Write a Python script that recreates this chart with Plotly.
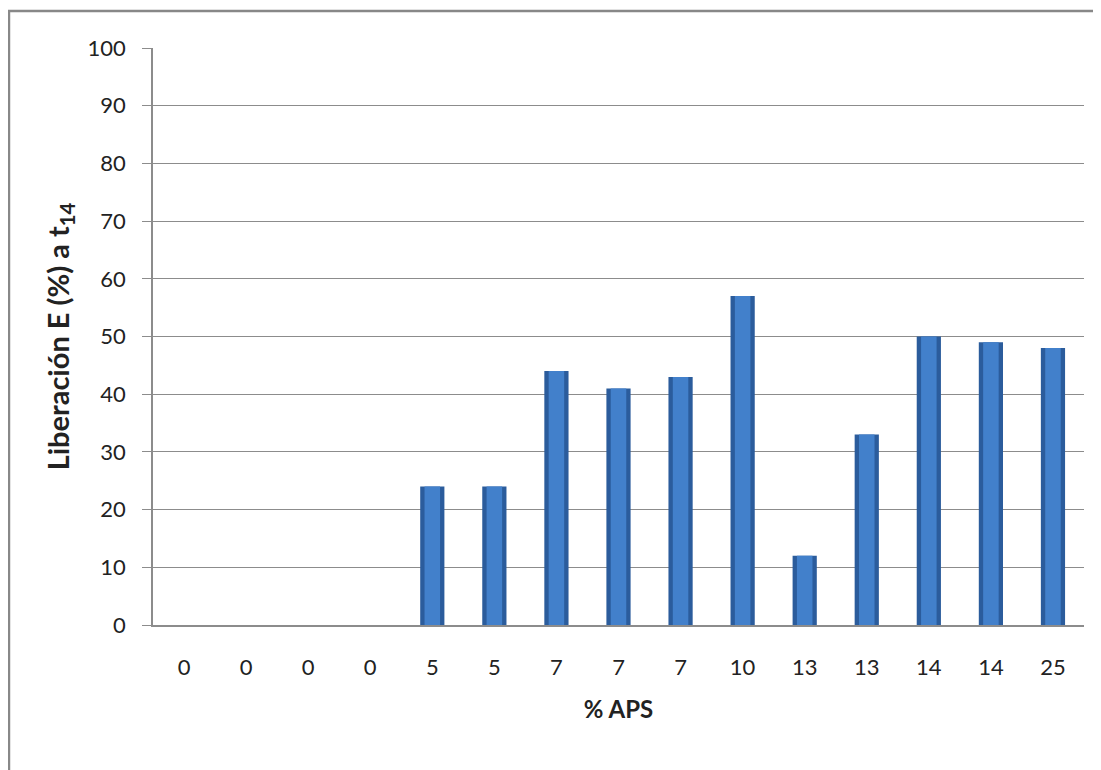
import plotly.graph_objects as go

categories = ["0", "0", "0", "0", "5", "5", "7", "7", "7", "10", "13", "13", "14", "14", "25"]
values = [0, 0, 0, 0, 24, 24, 44, 41, 43, 57, 12, 33, 50, 49, 48]
y_ticks = [0, 10, 20, 30, 40, 50, 60, 70, 80, 90, 100]

x_pos = list(range(len(categories)))
font_family = "Lato, 'Open Sans', sans-serif"

fig = go.Figure()
# base bar (dark edges)
fig.add_trace(go.Bar(
    x=x_pos, y=values, width=0.39,
    marker=dict(color="#2B5C9C", line=dict(width=0)),
    hoverinfo="skip", showlegend=False,
))
# lighter core for bevel look
fig.add_trace(go.Bar(
    x=x_pos, y=values, width=0.25,
    marker=dict(color="#4280CB", line=dict(width=0)),
    showlegend=False,
))

fig.update_layout(
    width=1093, height=762,
    margin=dict(l=145, r=17, t=40, b=145),
    barmode="overlay",
    paper_bgcolor="white", plot_bgcolor="white",
    font=dict(family=font_family, size=22, color="#222"),
    xaxis=dict(
        tickmode="array", tickvals=x_pos, ticktext=categories,
        range=[-0.5, len(categories) - 0.5],
        showgrid=False, showline=True, linecolor="#8C8C8C", linewidth=1.5,
        ticks="", tickfont=dict(size=22), ticklabelstandoff=22,
        title=dict(text="<b>% APS</b>", font=dict(size=24), standoff=22),
    ),
    yaxis=dict(
        range=[0, 100], tickvals=y_ticks,
        showgrid=True, gridcolor="#8C8C8C", gridwidth=1,
        showline=True, linecolor="#8C8C8C", linewidth=1.5,
        ticks="outside", ticklen=9, tickcolor="#8C8C8C",
        tickfont=dict(size=22), ticklabelstandoff=12, zeroline=False,
        title=dict(text="<b>Liberación E (%) a t<sub>14</sub></b>", font=dict(size=29), standoff=9),
    ),
    shapes=[dict(
        type="rect", xref="paper", yref="paper",
        x0=-0.1547, x1=1.03, y0=-0.28, y1=1.064,
        line=dict(color="#888888", width=2.5), fillcolor="rgba(0,0,0,0)", layer="below",
    )],
)

fig.write_html("out.html")
